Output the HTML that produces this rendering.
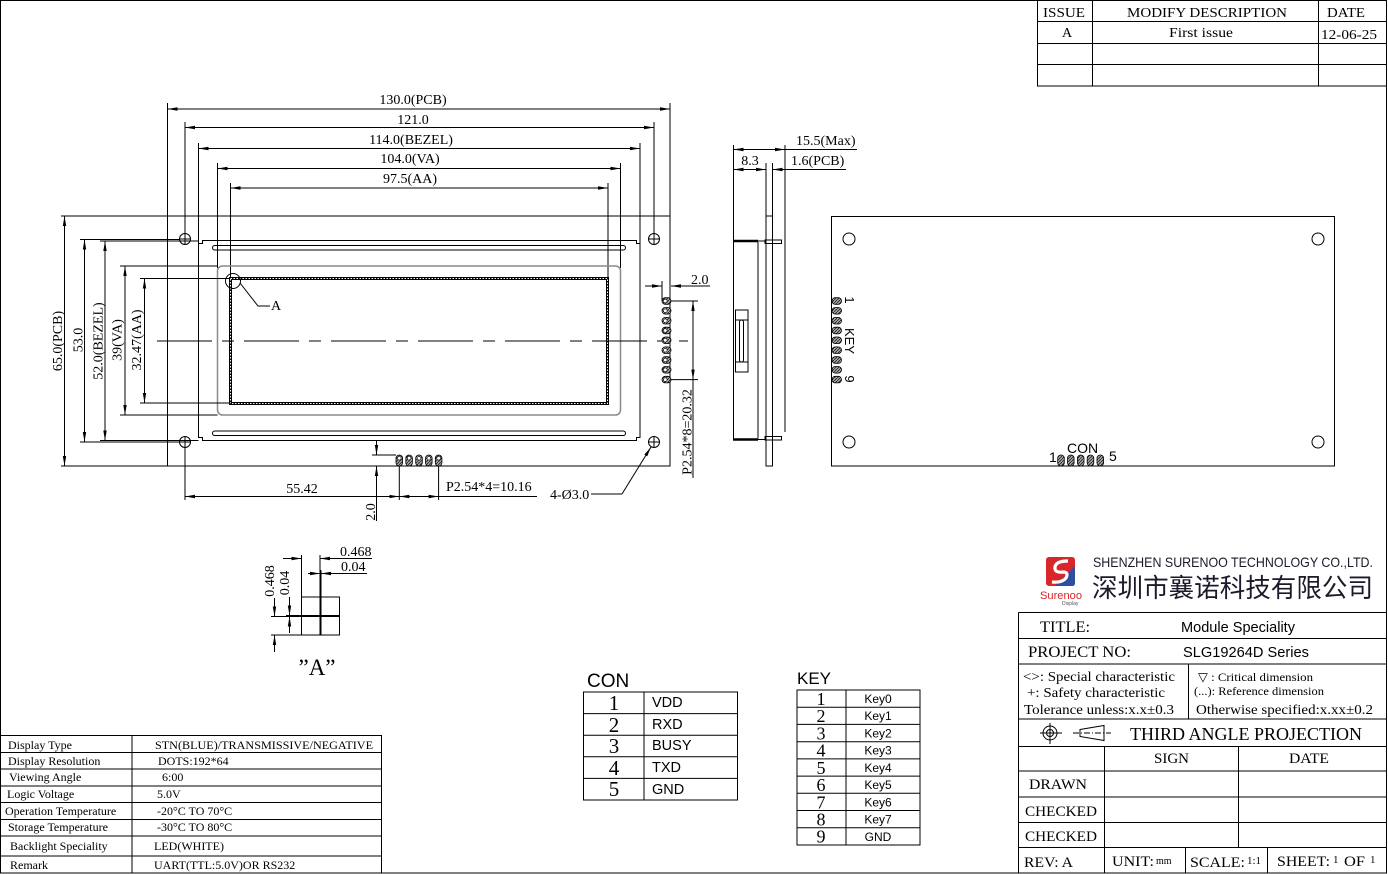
<!DOCTYPE html>
<html><head><meta charset="utf-8"><style>
html,body{margin:0;padding:0;background:#fff;}
svg{display:block;}
</style></head><body>
<svg width="1388" height="874" viewBox="0 0 1388 874" xmlns="http://www.w3.org/2000/svg">
<defs>
<marker id="ar" markerUnits="userSpaceOnUse" markerWidth="10" markerHeight="4" refX="10" refY="2" orient="auto-start-reverse"><path d="M0,0.3 L10,2 L0,3.7 Z" fill="#000"/></marker>
<pattern id="hat" patternUnits="userSpaceOnUse" width="3" height="3"><rect width="3" height="3" fill="#aaa"/><path d="M0,3 L3,0" stroke="#222" stroke-width="0.9"/></pattern>
</defs>
<rect x="0" y="0" width="1388" height="874" fill="#fff"/>
<g stroke="#000" stroke-width="1" fill="none">
<!-- frame -->
<rect x="0.5" y="0.5" width="1386" height="872.5"/>
<!-- revision table -->
<rect x="1037.5" y="0.5" width="349" height="85.5"/>
<line x1="1037.5" y1="21.5" x2="1386.5" y2="21.5"/>
<line x1="1037.5" y1="43.5" x2="1386.5" y2="43.5"/>
<line x1="1037.5" y1="64.5" x2="1386.5" y2="64.5"/>
<line x1="1092.5" y1="0.5" x2="1092.5" y2="86"/>
<line x1="1318.5" y1="0.5" x2="1318.5" y2="86"/>

<!-- FRONT VIEW top dims -->
<line x1="167.5" y1="109" x2="670" y2="109" marker-start="url(#ar)" marker-end="url(#ar)"/>
<line x1="185" y1="127.5" x2="654" y2="127.5" marker-start="url(#ar)" marker-end="url(#ar)"/>
<line x1="198.5" y1="148.5" x2="640" y2="148.5" marker-start="url(#ar)" marker-end="url(#ar)"/>
<line x1="217.5" y1="168.5" x2="620.5" y2="168.5" marker-start="url(#ar)" marker-end="url(#ar)"/>
<line x1="230.5" y1="188" x2="608" y2="188" marker-start="url(#ar)" marker-end="url(#ar)"/>
<line x1="167.5" y1="103" x2="167.5" y2="216"/><line x1="670" y1="103" x2="670" y2="216"/>
<line x1="185" y1="122" x2="185" y2="233.5"/><line x1="654" y1="122" x2="654" y2="233.5"/>
<line x1="198.5" y1="143" x2="198.5" y2="243"/><line x1="640" y1="143" x2="640" y2="243"/>
<line x1="217.5" y1="163" x2="217.5" y2="268"/><line x1="620.5" y1="163" x2="620.5" y2="268"/>
<line x1="230.5" y1="183" x2="230.5" y2="278.5"/><line x1="608" y1="183" x2="608" y2="278.5"/>

<!-- PCB -->
<rect x="167.5" y="216" width="502.5" height="250"/>
<!-- holes -->
<g>
<circle cx="185" cy="239" r="5.5"/><line x1="179.5" y1="239" x2="190.5" y2="239"/><line x1="185" y1="233.5" x2="185" y2="244.5"/>
<circle cx="654" cy="239" r="5.5"/><line x1="648.5" y1="239" x2="659.5" y2="239"/><line x1="654" y1="233.5" x2="654" y2="244.5"/>
<circle cx="185" cy="442" r="5.5"/><line x1="179.5" y1="442" x2="190.5" y2="442"/><line x1="185" y1="436.5" x2="185" y2="447.5"/>
<circle cx="654" cy="442" r="5.5"/><line x1="648.5" y1="442" x2="659.5" y2="442"/><line x1="654" y1="436.5" x2="654" y2="447.5"/>
</g>
<!-- bezel -->
<path d="M198.5,243.5 L202.5,243.5 L202.5,240.5 L636.5,240.5 L636.5,243.5 L640,243.5 L640,437.5 L636.5,437.5 L636.5,440.5 L202.5,440.5 L202.5,437.5 L198.5,437.5 Z"/>
<rect x="212.5" y="245.5" width="413" height="4.5" rx="2.25"/>
<rect x="212.5" y="431" width="413" height="4.5" rx="2.25"/>
<!-- VA -->
<rect x="217.5" y="266" width="403" height="149" rx="5" stroke="#8a8a8a" stroke-width="1.5"/>
<!-- AA -->
<rect x="230.5" y="278.5" width="377" height="125" stroke-width="3"/>
<rect x="230.5" y="278.5" width="377" height="125" stroke="#fff" stroke-width="1" stroke-dasharray="1.5 1.5"/>
<!-- center line -->
<line x1="157" y1="341" x2="688" y2="341" stroke-dasharray="55 10 12 10"/>
<!-- detail A mark -->
<circle cx="233" cy="281" r="7.5"/>
<polyline points="240,283 258,306 270,306"/>

<!-- left dims -->
<line x1="64.5" y1="216" x2="64.5" y2="466" marker-start="url(#ar)" marker-end="url(#ar)"/>
<line x1="84.5" y1="239.5" x2="84.5" y2="442" marker-start="url(#ar)" marker-end="url(#ar)"/>
<line x1="105" y1="241" x2="105" y2="440.5" marker-start="url(#ar)" marker-end="url(#ar)"/>
<line x1="125" y1="266" x2="125" y2="415" marker-start="url(#ar)" marker-end="url(#ar)"/>
<line x1="144.5" y1="278.5" x2="144.5" y2="403" marker-start="url(#ar)" marker-end="url(#ar)"/>
<line x1="61" y1="216" x2="167.5" y2="216"/><line x1="61" y1="466" x2="167.5" y2="466"/>
<line x1="80" y1="239.5" x2="179.5" y2="239.5"/><line x1="100" y1="241" x2="198.5" y2="241"/>
<line x1="80" y1="442" x2="179.5" y2="442"/><line x1="100" y1="440.5" x2="198.5" y2="440.5"/>
<line x1="120" y1="266" x2="217.5" y2="266"/><line x1="120" y1="415" x2="217.5" y2="415"/>
<line x1="140" y1="278.5" x2="230.5" y2="278.5"/><line x1="140" y1="403" x2="230.5" y2="403"/>

<!-- right key pins dims -->
<line x1="662" y1="281" x2="662" y2="301"/>
<line x1="645" y1="286" x2="662" y2="286" marker-end="url(#ar)"/>
<line x1="710" y1="286" x2="671" y2="286" marker-end="url(#ar)"/>
<line x1="671" y1="301" x2="698" y2="301"/><line x1="671" y1="379.6" x2="698" y2="379.6"/>
<line x1="693" y1="301" x2="693" y2="379.6" marker-start="url(#ar)" marker-end="url(#ar)"/>
<line x1="693" y1="379.6" x2="693" y2="478"/>

<!-- bottom dims -->
<line x1="372" y1="455" x2="396" y2="455"/>
<line x1="376.5" y1="440.5" x2="376.5" y2="455" marker-end="url(#ar)"/>
<line x1="376.5" y1="521" x2="376.5" y2="466" marker-end="url(#ar)"/>
<line x1="185" y1="447.5" x2="185" y2="500"/>
<line x1="399.3" y1="466" x2="399.3" y2="500"/>
<line x1="438.6" y1="466" x2="438.6" y2="500"/>
<line x1="185" y1="496.5" x2="399.3" y2="496.5" marker-start="url(#ar)" marker-end="url(#ar)"/>
<line x1="399.3" y1="496.5" x2="438.6" y2="496.5" marker-start="url(#ar)" marker-end="url(#ar)"/>
<line x1="438.6" y1="496.5" x2="537" y2="496.5"/>
<polyline points="591,494 622,494"/>
<line x1="622" y1="494" x2="651" y2="447" marker-end="url(#ar)"/>

<!-- SIDE VIEW -->
<line x1="733.5" y1="145" x2="733.5" y2="440"/>
<line x1="766" y1="163" x2="766" y2="216"/>
<line x1="772.5" y1="163" x2="772.5" y2="216"/>
<line x1="785" y1="145" x2="785" y2="432"/>
<rect x="766" y="216" width="6.5" height="250"/>
<line x1="733.5" y1="149.5" x2="785" y2="149.5" marker-start="url(#ar)" marker-end="url(#ar)"/>
<line x1="785" y1="149.5" x2="857" y2="149.5"/>
<line x1="733.5" y1="169.5" x2="766" y2="169.5" marker-start="url(#ar)" marker-end="url(#ar)"/>
<line x1="846" y1="169.5" x2="772.5" y2="169.5" marker-end="url(#ar)"/>
<line x1="733" y1="241" x2="758" y2="241" stroke-width="2.5"/>
<line x1="758" y1="241" x2="766" y2="241"/>
<line x1="733" y1="439.5" x2="758" y2="439.5" stroke-width="2.5"/>
<line x1="758" y1="439.5" x2="766" y2="439.5"/>
<line x1="758" y1="242" x2="758" y2="438.5"/>
<rect x="765" y="240" width="16.5" height="3.5"/>
<rect x="765" y="436.5" width="16.5" height="3.5"/>
<rect x="735.5" y="310" width="12.5" height="62"/>
<line x1="735.5" y1="320" x2="748" y2="320"/><line x1="735.5" y1="362" x2="748" y2="362"/>
<rect x="739.5" y="320" width="4" height="42" rx="2"/>

<!-- BACK VIEW -->
<rect x="831.5" y="216.5" width="503" height="249.5"/>
<circle cx="849" cy="239" r="6"/><circle cx="1318" cy="239" r="6"/>
<circle cx="849" cy="442" r="6"/><circle cx="1318" cy="442" r="6"/>

<!-- DETAIL A -->
<rect x="301.5" y="597" width="18.5" height="18.5"/>
<rect x="321" y="597" width="18.5" height="18.5"/>
<rect x="301.5" y="616.5" width="18.5" height="18.5"/>
<rect x="321" y="616.5" width="18.5" height="18.5"/>
<line x1="301.5" y1="555" x2="301.5" y2="597"/>
<line x1="320" y1="555" x2="320" y2="597"/>
<line x1="321" y1="570" x2="321" y2="597"/>
<line x1="283" y1="558.5" x2="301.5" y2="558.5" marker-end="url(#ar)"/>
<line x1="372" y1="558.5" x2="320" y2="558.5" marker-end="url(#ar)"/>
<line x1="308" y1="573.5" x2="320" y2="573.5" marker-end="url(#ar)"/>
<line x1="367" y1="573.5" x2="321" y2="573.5" marker-end="url(#ar)"/>
<line x1="286" y1="615.5" x2="301.5" y2="615.5"/>
<line x1="271" y1="616.5" x2="301.5" y2="616.5"/>
<line x1="271" y1="635" x2="301.5" y2="635"/>
<line x1="274.5" y1="598" x2="274.5" y2="616.5" marker-end="url(#ar)"/>
<line x1="274.5" y1="652" x2="274.5" y2="635" marker-end="url(#ar)"/>
<line x1="289.5" y1="597" x2="289.5" y2="615.5" marker-end="url(#ar)"/>
<line x1="289.5" y1="633" x2="289.5" y2="616.5" marker-end="url(#ar)"/>

<!-- spec table -->
<rect x="0.5" y="735.5" width="381" height="137.5"/>
<line x1="0.5" y1="752.5" x2="381.5" y2="752.5"/>
<line x1="0.5" y1="769" x2="381.5" y2="769"/>
<line x1="0.5" y1="786" x2="381.5" y2="786"/>
<line x1="0.5" y1="802.5" x2="381.5" y2="802.5"/>
<line x1="0.5" y1="819.5" x2="381.5" y2="819.5"/>
<line x1="0.5" y1="836" x2="381.5" y2="836"/>
<line x1="0.5" y1="856" x2="381.5" y2="856"/>
<line x1="132" y1="735.5" x2="132" y2="873"/>

<!-- CON table -->
<rect x="583.5" y="692" width="154" height="108"/>
<line x1="583.5" y1="713.6" x2="737.5" y2="713.6"/>
<line x1="583.5" y1="735.2" x2="737.5" y2="735.2"/>
<line x1="583.5" y1="756.8" x2="737.5" y2="756.8"/>
<line x1="583.5" y1="778.4" x2="737.5" y2="778.4"/>
<line x1="644" y1="692" x2="644" y2="800"/>

<!-- KEY table -->
<rect x="797" y="690" width="123" height="155"/>
<line x1="797" y1="707.2" x2="920" y2="707.2"/>
<line x1="797" y1="724.4" x2="920" y2="724.4"/>
<line x1="797" y1="741.7" x2="920" y2="741.7"/>
<line x1="797" y1="758.9" x2="920" y2="758.9"/>
<line x1="797" y1="776.1" x2="920" y2="776.1"/>
<line x1="797" y1="793.3" x2="920" y2="793.3"/>
<line x1="797" y1="810.5" x2="920" y2="810.5"/>
<line x1="797" y1="827.8" x2="920" y2="827.8"/>
<line x1="846" y1="690" x2="846" y2="845"/>

<!-- title block -->
<line x1="1018.5" y1="612.5" x2="1018.5" y2="873"/>
<line x1="1018.5" y1="612.5" x2="1386.5" y2="612.5"/>
<line x1="1018.5" y1="638.5" x2="1386.5" y2="638.5"/>
<line x1="1018.5" y1="664" x2="1386.5" y2="664"/>
<line x1="1018.5" y1="719" x2="1386.5" y2="719"/>
<line x1="1018.5" y1="746.5" x2="1386.5" y2="746.5"/>
<line x1="1018.5" y1="771" x2="1386.5" y2="771"/>
<line x1="1018.5" y1="797" x2="1386.5" y2="797"/>
<line x1="1018.5" y1="822.5" x2="1386.5" y2="822.5"/>
<line x1="1018.5" y1="847.5" x2="1386.5" y2="847.5"/>
<line x1="1188.5" y1="664" x2="1188.5" y2="719"/>
<line x1="1104.5" y1="746.5" x2="1104.5" y2="873"/>
<line x1="1238.5" y1="746.5" x2="1238.5" y2="847.5"/>
<line x1="1185.5" y1="847.5" x2="1185.5" y2="873"/>
<line x1="1267.5" y1="847.5" x2="1267.5" y2="873"/>
<!-- projection symbol -->
<circle cx="1050" cy="733" r="7"/><circle cx="1050" cy="733" r="3.5"/>
<line x1="1040" y1="733" x2="1062" y2="733"/><line x1="1050" y1="723" x2="1050" y2="744"/>
<polygon points="1080,729.5 1104,725.5 1104,740.5 1080,736.5"/>
<line x1="1073" y1="733" x2="1111" y2="733" stroke-dasharray="6 2 1 2"/>
</g>

<!-- pins -->
<g stroke="#000" stroke-width="0.8">
<rect x="662" y="297.7" width="9" height="6.6" rx="3.3" fill="url(#hat)"/>
<rect x="662" y="307.5" width="9" height="6.6" rx="3.3" fill="url(#hat)"/>
<rect x="662" y="317.4" width="9" height="6.6" rx="3.3" fill="url(#hat)"/>
<rect x="662" y="327.2" width="9" height="6.6" rx="3.3" fill="url(#hat)"/>
<rect x="662" y="337" width="9" height="6.6" rx="3.3" fill="url(#hat)"/>
<rect x="662" y="346.9" width="9" height="6.6" rx="3.3" fill="url(#hat)"/>
<rect x="662" y="356.7" width="9" height="6.6" rx="3.3" fill="url(#hat)"/>
<rect x="662" y="366.5" width="9" height="6.6" rx="3.3" fill="url(#hat)"/>
<rect x="662" y="376.3" width="9" height="6.6" rx="3.3" fill="url(#hat)"/>
<g fill="#fff" stroke-width="0.6">
<circle cx="665.3" cy="301" r="1.8"/><circle cx="665.3" cy="310.8" r="1.8"/><circle cx="665.3" cy="320.7" r="1.8"/>
<circle cx="665.3" cy="330.5" r="1.8"/><circle cx="665.3" cy="340.3" r="1.8"/><circle cx="665.3" cy="350.2" r="1.8"/>
<circle cx="665.3" cy="360" r="1.8"/><circle cx="665.3" cy="369.8" r="1.8"/><circle cx="665.3" cy="379.6" r="1.8"/>
</g>
<rect x="396" y="455" width="6.6" height="11" rx="3.3" fill="url(#hat)"/>
<rect x="405.8" y="455" width="6.6" height="11" rx="3.3" fill="url(#hat)"/>
<rect x="415.7" y="455" width="6.6" height="11" rx="3.3" fill="url(#hat)"/>
<rect x="425.5" y="455" width="6.6" height="11" rx="3.3" fill="url(#hat)"/>
<rect x="435.3" y="455" width="6.6" height="11" rx="3.3" fill="url(#hat)"/>
<g fill="#fff" stroke-width="0.6">
<circle cx="399.3" cy="458.3" r="1.8"/><circle cx="409.1" cy="458.3" r="1.8"/><circle cx="419" cy="458.3" r="1.8"/>
<circle cx="428.8" cy="458.3" r="1.8"/><circle cx="438.6" cy="458.3" r="1.8"/>
</g>
<!-- back key pins -->
<rect x="832" y="297.7" width="9.5" height="6.6" rx="3.3" fill="url(#hat)"/>
<rect x="832" y="307.5" width="9.5" height="6.6" rx="3.3" fill="url(#hat)"/>
<rect x="832" y="317.4" width="9.5" height="6.6" rx="3.3" fill="url(#hat)"/>
<rect x="832" y="327.2" width="9.5" height="6.6" rx="3.3" fill="url(#hat)"/>
<rect x="832" y="337" width="9.5" height="6.6" rx="3.3" fill="url(#hat)"/>
<rect x="832" y="346.9" width="9.5" height="6.6" rx="3.3" fill="url(#hat)"/>
<rect x="832" y="356.7" width="9.5" height="6.6" rx="3.3" fill="url(#hat)"/>
<rect x="832" y="366.5" width="9.5" height="6.6" rx="3.3" fill="url(#hat)"/>
<rect x="832" y="376.3" width="9.5" height="6.6" rx="3.3" fill="url(#hat)"/>
<!-- back con pins -->
<rect x="1057.7" y="455" width="6.6" height="11" rx="3.3" fill="url(#hat)"/>
<rect x="1067.5" y="455" width="6.6" height="11" rx="3.3" fill="url(#hat)"/>
<rect x="1077.4" y="455" width="6.6" height="11" rx="3.3" fill="url(#hat)"/>
<rect x="1087.2" y="455" width="6.6" height="11" rx="3.3" fill="url(#hat)"/>
<rect x="1097" y="455" width="6.6" height="11" rx="3.3" fill="url(#hat)"/>
</g>

<!-- logo -->
<g>
<rect x="1046" y="557" width="29" height="29" rx="3" fill="#d9262b"/>
<path d="M1075,566 L1075,583 Q1075,586 1072,586 L1055,586 Z" fill="#2d4f9e"/>
<path d="M1068,561 Q1054,561 1055,569 Q1056,573 1063,572 Q1069,572 1066,578 Q1062,583 1052,582" stroke="#fff" stroke-width="3.2" fill="none"/>
<text x="1040" y="599" font-family="Liberation Sans, sans-serif" font-size="11" fill="#d9262b" textLength="42" lengthAdjust="spacingAndGlyphs">Surenoo</text>
<text x="1062" y="605" font-family="Liberation Sans, sans-serif" font-size="5" fill="#555">Display</text>
</g>

<!-- TEXT -->
<g font-family="Liberation Serif, serif" font-size="14" fill="#000" stroke="none">
<!-- revision -->
<text x="1043" y="17" textLength="42" lengthAdjust="spacingAndGlyphs">ISSUE</text>
<text x="1127" y="17" textLength="160" lengthAdjust="spacingAndGlyphs">MODIFY DESCRIPTION</text>
<text x="1327" y="17" textLength="38" lengthAdjust="spacingAndGlyphs">DATE</text>
<text x="1062" y="37">A</text>
<text x="1169" y="37" textLength="64" lengthAdjust="spacingAndGlyphs">First issue</text>
<text x="1321" y="39" textLength="56" lengthAdjust="spacingAndGlyphs">12-06-25</text>
<!-- top dims -->
<text x="413" y="104" text-anchor="middle">130.0(PCB)</text>
<text x="413" y="124" text-anchor="middle">121.0</text>
<text x="411" y="144" text-anchor="middle">114.0(BEZEL)</text>
<text x="410" y="163" text-anchor="middle">104.0(VA)</text>
<text x="410" y="183" text-anchor="middle">97.5(AA)</text>
<!-- left dims -->
<text transform="translate(62,341) rotate(-90)" text-anchor="middle">65.0(PCB)</text>
<text transform="translate(82.5,340) rotate(-90)" text-anchor="middle">53.0</text>
<text transform="translate(102.5,341) rotate(-90)" text-anchor="middle">52.0(BEZEL)</text>
<text transform="translate(121.5,340) rotate(-90)" text-anchor="middle">39(VA)</text>
<text transform="translate(141,340) rotate(-90)" text-anchor="middle">32.47(AA)</text>
<text x="271" y="310">A</text>
<!-- right dims -->
<text x="691" y="284">2.0</text>
<text transform="translate(691.5,432) rotate(-90)" text-anchor="middle">P2.54*8=20.32</text>
<!-- bottom -->
<text transform="translate(375,512) rotate(-90)" text-anchor="middle">2.0</text>
<text x="302" y="493" text-anchor="middle">55.42</text>
<text x="446" y="491">P2.54*4=10.16</text>
<text x="550" y="499">4-&#216;3.0</text>
<!-- side -->
<text x="796" y="145">15.5(Max)</text>
<text x="750" y="165" text-anchor="middle">8.3</text>
<text x="791" y="165">1.6(PCB)</text>
<!-- detail A -->
<text x="340" y="556">0.468</text>
<text x="341" y="571">0.04</text>
<text transform="translate(274,581) rotate(-90)" text-anchor="middle">0.468</text>
<text transform="translate(289,583) rotate(-90)" text-anchor="middle">0.04</text>
<text x="317" y="675" text-anchor="middle" font-size="23">&#8221;A&#8221;</text>
</g>

<!-- back view labels -->
<g font-family="Liberation Sans, sans-serif" font-size="13" fill="#000">
<text transform="translate(845,300) rotate(90)" text-anchor="middle">1</text>
<text transform="translate(845,341) rotate(90)" text-anchor="middle">KEY</text>
<text transform="translate(845,379) rotate(90)" text-anchor="middle">9</text>
<text x="1049" y="462" font-size="14">1</text>
<text x="1067" y="453" font-size="14">CON</text>
<text x="1109" y="461" font-size="14">5</text>
</g>

<!-- spec table text -->
<g font-family="Liberation Serif, serif" font-size="12" fill="#000">
<text x="8" y="749">Display Type</text>
<text x="8" y="765">Display Resolution</text>
<text x="9" y="781">Viewing Angle</text>
<text x="7" y="798">Logic Voltage</text>
<text x="5" y="815">Operation Temperature</text>
<text x="8" y="831">Storage Temperature</text>
<text x="10" y="850">Backlight Speciality</text>
<text x="10" y="869">Remark</text>
<text x="155" y="749" textLength="218" lengthAdjust="spacingAndGlyphs">STN(BLUE)/TRANSMISSIVE/NEGATIVE</text>
<text x="158" y="765">DOTS:192*64</text>
<text x="162" y="781">6:00</text>
<text x="157" y="798">5.0V</text>
<text x="157" y="815">-20°C TO 70°C</text>
<text x="157" y="831">-30°C TO 80°C</text>
<text x="154" y="850">LED(WHITE)</text>
<text x="154" y="869">UART(TTL:5.0V)OR RS232</text>
</g>

<!-- CON/KEY tables -->
<g fill="#000">
<text x="587" y="687" font-family="Liberation Sans, sans-serif" font-size="19">CON</text>
<g font-family="Liberation Serif, serif" font-size="21" text-anchor="middle">
<text x="614" y="710">1</text><text x="614" y="732">2</text><text x="614" y="753">3</text><text x="614" y="775">4</text><text x="614" y="796">5</text>
</g>
<g font-family="Liberation Sans, sans-serif" font-size="14.5">
<text x="652" y="707">VDD</text><text x="652" y="729">RXD</text><text x="652" y="750">BUSY</text><text x="652" y="772">TXD</text><text x="652" y="794">GND</text>
</g>
<text x="797" y="684" font-family="Liberation Sans, sans-serif" font-size="17">KEY</text>
<g font-family="Liberation Serif, serif" font-size="18" text-anchor="middle">
<text x="821" y="705">1</text><text x="821" y="722">2</text><text x="821" y="739.5">3</text><text x="821" y="756.5">4</text><text x="821" y="774">5</text><text x="821" y="791">6</text><text x="821" y="808.5">7</text><text x="821" y="825.5">8</text><text x="821" y="842.5">9</text>
</g>
<g font-family="Liberation Sans, sans-serif" font-size="12" text-anchor="middle">
<text x="878" y="703">Key0</text><text x="878" y="720">Key1</text><text x="878" y="737.5">Key2</text><text x="878" y="754.5">Key3</text><text x="878" y="772">Key4</text><text x="878" y="789">Key5</text><text x="878" y="806.5">Key6</text><text x="878" y="823.5">Key7</text><text x="878" y="841">GND</text>
</g>
</g>

<!-- title block text -->
<g fill="#000">
<text x="1093" y="567" font-family="Liberation Sans, sans-serif" font-size="14" textLength="280" lengthAdjust="spacingAndGlyphs" fill="#1a1a2a">SHENZHEN SURENOO TECHNOLOGY CO.,LTD.</text>
<text x="1092" y="597" font-family="Liberation Sans, 'Noto Sans CJK SC', sans-serif" font-size="26" textLength="281" lengthAdjust="spacingAndGlyphs" fill="#1a1a2a">深圳市襄诺科技有限公司</text>
<g font-family="Liberation Serif, serif">
<text x="1040" y="632" font-size="16" textLength="50" lengthAdjust="spacingAndGlyphs">TITLE:</text>
<text x="1028" y="657" font-size="16" textLength="103" lengthAdjust="spacingAndGlyphs">PROJECT NO:</text>
<text x="1023" y="681" font-size="14" textLength="152" lengthAdjust="spacingAndGlyphs">&lt;&gt;: Special characteristic</text>
<text x="1027" y="697" font-size="14" textLength="138" lengthAdjust="spacingAndGlyphs">+: Safety characteristic</text>
<text x="1024" y="714" font-size="14" textLength="150" lengthAdjust="spacingAndGlyphs">Tolerance unless:x.x±0.3</text>
<text x="1198" y="681" font-size="12" textLength="115" lengthAdjust="spacingAndGlyphs">▽ : Critical dimension</text>
<text x="1194" y="695" font-size="12" textLength="130" lengthAdjust="spacingAndGlyphs">(...): Reference dimension</text>
<text x="1196" y="714" font-size="14" textLength="177" lengthAdjust="spacingAndGlyphs">Otherwise specified:x.xx±0.2</text>
<text x="1130" y="740" font-size="18" textLength="232" lengthAdjust="spacingAndGlyphs">THIRD ANGLE PROJECTION</text>
<text x="1154" y="763" font-size="15" textLength="35" lengthAdjust="spacingAndGlyphs">SIGN</text>
<text x="1289" y="763" font-size="15" textLength="40" lengthAdjust="spacingAndGlyphs">DATE</text>
<text x="1029" y="789" font-size="15" textLength="58" lengthAdjust="spacingAndGlyphs">DRAWN</text>
<text x="1025" y="816" font-size="15" textLength="72" lengthAdjust="spacingAndGlyphs">CHECKED</text>
<text x="1025" y="841" font-size="15" textLength="72" lengthAdjust="spacingAndGlyphs">CHECKED</text>
<text x="1024" y="867" font-size="15" textLength="49" lengthAdjust="spacingAndGlyphs">REV: A</text>
<text x="1112" y="866" font-size="15" textLength="42" lengthAdjust="spacingAndGlyphs">UNIT:</text>
<text x="1156" y="864" font-size="10">mm</text>
<text x="1190" y="867" font-size="15" textLength="55" lengthAdjust="spacingAndGlyphs">SCALE:</text>
<text x="1247" y="864" font-size="11">1:1</text>
<text x="1277" y="866" font-size="15" textLength="53" lengthAdjust="spacingAndGlyphs">SHEET:</text>
<text x="1333" y="863" font-size="11">1</text>
<text x="1344" y="866" font-size="15" textLength="21" lengthAdjust="spacingAndGlyphs">OF</text>
<text x="1370" y="863" font-size="11">1</text>
</g>
<g font-family="Liberation Sans, sans-serif" font-size="14.5">
<text x="1181" y="632" textLength="114" lengthAdjust="spacingAndGlyphs">Module Speciality</text>
<text x="1183" y="657" textLength="126" lengthAdjust="spacingAndGlyphs">SLG19264D Series</text>
</g>
</g>
</svg>
</body></html>
